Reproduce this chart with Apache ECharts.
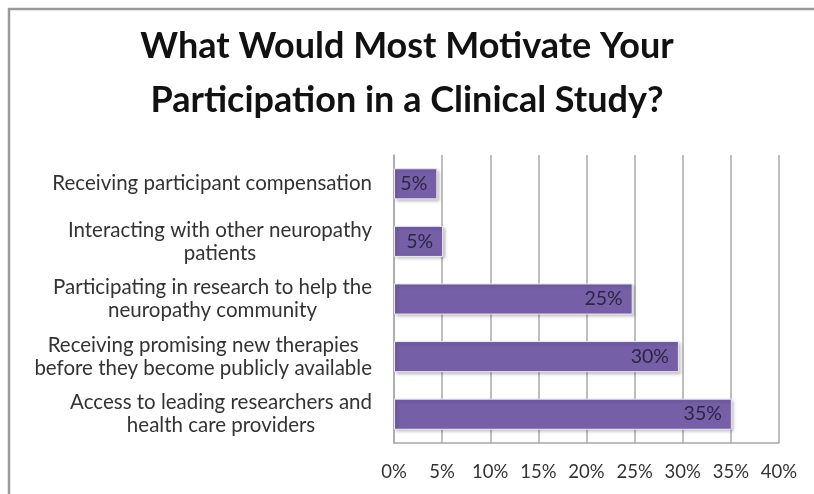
<!DOCTYPE html>
<html>
<head>
<meta charset="utf-8">
<script src="https://cdn.jsdelivr.net/npm/echarts@6/dist/echarts.min.js"></script>
<style>html,body{margin:0;padding:0;background:#fff;}#c{width:814px;height:494px;}</style>
</head>
<body>
<div id="c"></div>
<script>
var categories = [
  'Receiving participant compensation',
  'Interacting with other neuropathy\npatients',
  'Participating in research to help the\nneuropathy community',
  'Receiving promising new therapies\nbefore they become publicly available',
  'Access to leading researchers and\nhealth care providers'
];
var values = [4.5, 5.1, 24.8, 29.6, 35.1];
var valueLabels = ['5%', '5%', '25%', '30%', '35%'];
var xTicks = [0, 5, 10, 15, 20, 25, 30, 35, 40];

var chart = echarts.init(document.getElementById('c'), null, {renderer: 'canvas'});
var FONT = 'Lato, "Open Sans", sans-serif';
chart.setOption({
  backgroundColor: '#fff',
  animation: false,
  title: {
    text: 'What Would Most Motivate Your\nParticipation in a Clinical Study?',
    left: 'center',
    top: 14,
    textStyle: {fontFamily: FONT, fontWeight: 'bold', fontSize: 36, lineHeight: 54, color: '#111'}
  },
  graphic: [{
    type: 'rect', silent: true, z: -1,
    shape: {x: 9, y: 9, width: 830, height: 520},
    style: {fill: 'none', stroke: '#9a9a9a', lineWidth: 2.5}
  }],
  grid: {left: 394, right: 35, top: 155, bottom: 51, containLabel: false},
  xAxis: {
    type: 'value', min: xTicks[0], max: xTicks[xTicks.length - 1], interval: 5,
    axisLine: {show: true, lineStyle: {color: '#a8a8a8', width: 1.5}},
    axisTick: {show: false},
    axisLabel: {formatter: '{value}%', fontFamily: FONT, fontSize: 18.5, color: '#333', margin: 20},
    splitLine: {show: true, lineStyle: {color: '#a8a8a8', width: 1.5}}
  },
  yAxis: {
    type: 'category', inverse: true,
    data: categories,
    axisLine: {show: true, lineStyle: {color: '#a8a8a8', width: 1.5}},
    axisTick: {show: false},
    axisLabel: {
      margin: 22,
      formatter: function (v) {
        return v.split('\n').map(function (l) { return '{c|' + l + '}'; }).join('\n');
      },
      rich: {c: {align: 'center', fontFamily: FONT, fontSize: 20.5, lineHeight: 23, color: '#333'}}
    }
  },
  series: [{
    type: 'bar',
    data: values,
    barWidth: '54%',
    itemStyle: {
      color: '#7560a8',
      borderColor: '#ece8f4', borderWidth: 1,
      shadowColor: 'rgba(0,0,0,0.25)', shadowBlur: 3, shadowOffsetX: 2, shadowOffsetY: 2
    },
    label: {
      show: true, position: 'insideRight', distance: 10,
      formatter: function (p) { return valueLabels[p.dataIndex]; },
      fontFamily: FONT, fontSize: 19.5, color: '#2c2545'
    }
  }]
});
</script>
</body>
</html>
